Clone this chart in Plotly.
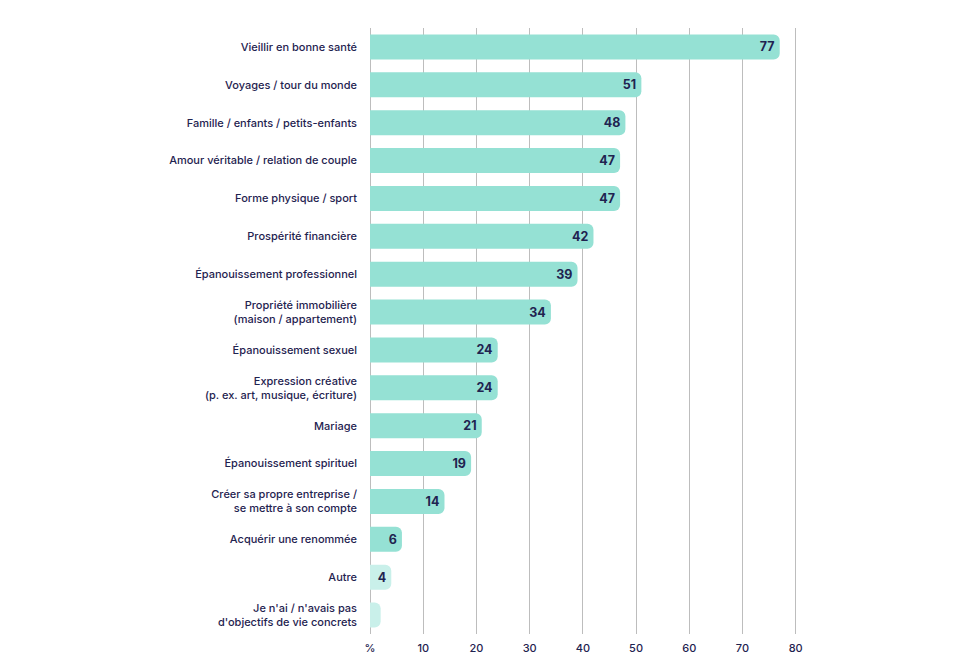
import plotly.graph_objects as go

categories = [
    "Vieillir en bonne santé",
    "Voyages / tour du monde",
    "Famille / enfants / petits-enfants",
    "Amour véritable / relation de couple",
    "Forme physique / sport",
    "Prospérité financière",
    "Épanouissement professionnel",
    "Propriété immobilière<br>(maison / appartement)",
    "Épanouissement sexuel",
    "Expression créative<br>(p. ex. art, musique, écriture)",
    "Mariage",
    "Épanouissement spirituel",
    "Créer sa propre entreprise /<br>se mettre à son compte",
    "Acquérir une renommée",
    "Autre",
    "Je n'ai / n'avais pas<br>d'objectifs de vie concrets",
]
values = [77, 51, 48, 47, 47, 42, 39, 34, 24, 24, 21, 19, 14, 6, 4, 2]
labels = ["77", "51", "48", "47", "47", "42", "39", "34", "24", "24", "21", "19", "14", "6", "4", ""]
light = [False] * 14 + [True, True]

tick_vals = [0, 10, 20, 30, 40, 50, 60, 70, 80]
tick_text = ["%", "10", "20", "30", "40", "50", "60", "70", "80"]

navy = "#1f2350"
colors = ["#c9f0ea" if l else "#95e1d4" for l in light]
pad = "\u2009"

fig = go.Figure(go.Bar(
    x=values, y=categories, orientation="h",
    marker=dict(color=colors, cornerradius=6, line=dict(width=0)),
    width=0.66,
    text=[t + pad if t else t for t in labels],
    textposition="inside", insidetextanchor="end",
    textfont=dict(family="Inter", size=12.5, color=navy, weight="bold"),
    textangle=0, cliponaxis=False,
))

fig.update_layout(
    width=960, height=671,
    margin=dict(l=370, r=159, t=28, b=37),
    plot_bgcolor="white", paper_bgcolor="white",
    showlegend=False,
    font=dict(family="Inter", size=11, color=navy),
    uniformtext=dict(minsize=8, mode="show"),
)
fig.update_xaxes(
    range=[0, 81], tickvals=tick_vals, ticktext=tick_text,
    showgrid=True, gridcolor="#bdbdbd", gridwidth=1,
    zeroline=True, zerolinecolor="#bdbdbd", zerolinewidth=1,
    showline=False, ticks="", fixedrange=True,
    ticklabelstandoff=6,
    tickfont=dict(size=11, color=navy, weight=500),
)
fig.update_yaxes(
    autorange="reversed", showgrid=False, showline=False, ticks="",
    ticklabelstandoff=12, tickfont=dict(size=11, color=navy, weight=500),
)

fig.write_html("out.html")
